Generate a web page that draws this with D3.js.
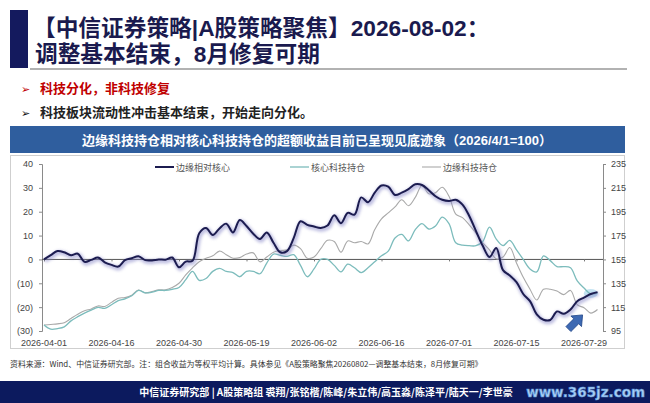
<!DOCTYPE html>
<html><head><meta charset="utf-8">
<script src="https://cdn.jsdelivr.net/npm/d3@7"></script>
<style>
body{margin:0;background:#fff;}
svg{display:block;font-family:"Liberation Sans","Noto Sans CJK SC",sans-serif;}
</style></head><body><svg id="c" width="650" height="403"></svg>
<script>
const dates = [
"2026-04-01","2026-04-02","2026-04-03","2026-04-07","2026-04-08","2026-04-09","2026-04-10","2026-04-13","2026-04-14","2026-04-15",
"2026-04-16","2026-04-17","2026-04-20","2026-04-21","2026-04-22","2026-04-23","2026-04-24","2026-04-27","2026-04-28","2026-04-29",
"2026-04-30","2026-05-06","2026-05-07","2026-05-08","2026-05-11","2026-05-12","2026-05-13","2026-05-14","2026-05-15","2026-05-18",
"2026-05-19","2026-05-20","2026-05-21","2026-05-22","2026-05-25","2026-05-26","2026-05-27","2026-05-28","2026-05-29","2026-06-01",
"2026-06-02","2026-06-03","2026-06-04","2026-06-05","2026-06-08","2026-06-09","2026-06-10","2026-06-11","2026-06-12","2026-06-15",
"2026-06-16","2026-06-17","2026-06-18","2026-06-22","2026-06-23","2026-06-24","2026-06-25","2026-06-26","2026-06-29","2026-06-30",
"2026-07-01","2026-07-02","2026-07-03","2026-07-06","2026-07-07","2026-07-08","2026-07-09","2026-07-10","2026-07-13","2026-07-14",
"2026-07-15","2026-07-16","2026-07-17","2026-07-20","2026-07-21","2026-07-22","2026-07-23","2026-07-24","2026-07-27","2026-07-28",
"2026-07-29","2026-07-30","2026-07-31"];
const xTickLabels = ["2026-04-01","2026-04-16","2026-04-30","2026-05-19","2026-06-02","2026-06-16","2026-07-01","2026-07-15","2026-07-29"];
// 边缘相对核心 (left axis)
const relSeries = [
0,1.8,3.5,3,1.8,2.4,-1,-0.2,0.8,-1.2,
-2.3,-3,-0.3,0.5,1.3,-0.3,-0.4,0,-0.1,0.8,
-3.3,-0.9,-0.6,11,13.2,10.2,13,15,11.3,16.5,
14,10.8,8.6,11.3,7,3,3.5,9,16,14.5,
13.8,13.2,14.2,18.5,15.2,19.5,18.8,26,24,28,
31,30.5,27,28,29.5,31.5,31.2,29,26.5,25,
24.5,25,23,18.2,11.9,5.7,1,4.8,-4.5,-6.7,
-9.5,-14.5,-17.5,-23,-25.3,-25.4,-21.8,-22.8,-21,-17.5,
-16,-14.5,-13.7];
// 核心科技持仓 (right axis)
const coreSeries = [
100,96.5,97,98.5,103.5,107,110,112.5,114.8,114,
117,120.5,122,124.5,129,127,127.5,129,129,130,
131.5,138,145,137.5,139,145,147.5,145,144,140.5,
145,145,143,152,159.5,158.5,157.5,159,150,140.5,
147,155,155,150,144.5,151,148,144,148,153,
158,162,173,176,170.5,180,185,180.5,183,190.5,
185,169,167,166.5,166.5,170,182,172,166.5,171,
163,155,147,144.5,158,154,149,149,148,137,
131,126,127];
// 边缘科技持仓 (right axis)
const edgeSeries = [
100,100.5,101,102,105.5,109,112,113.5,116,115.6,
119,122.5,123,125,129.4,127,128,129.5,129.5,131.5,
135,142,148,153,156,158,162,159,156,156.5,
159.5,160.5,153,157,161,162.5,163,167,164,156,
157,164,171,170,161,170.5,169,170,168,180,
189,194,199,205,200,207,217,210,211,215.5,
208,193,190,184,177,169,163,155.5,157,165,
152,140,130,121,130,130,128.5,125.5,129,117,
114.5,110,113];
const leftTicks = [-30,-20,-10,0,10,20,30,40];
const rightTicks = [95,115,135,155,175,195,215,235];
const seriesNames = ["边缘相对核心","核心科技持仓","边缘科技持仓"];

const svg = d3.select("#c");
const navy = "#141a5e";

// header
svg.append("rect").attr("x",10).attr("y",10).attr("width",18).attr("height",58).attr("fill",navy);
svg.append("text").attr("x",33).attr("y",36).attr("font-size",22.7).attr("font-weight","bold").attr("fill","#1a1a4e")
  .text("【中信证券策略|A股策略聚焦】2026-08-02：");
svg.append("text").attr("x",35).attr("y",62).attr("font-size",22.7).attr("font-weight","bold").attr("fill","#1a1a4e")
  .text("调整基本结束，8月修复可期");
svg.append("line").attr("x1",30).attr("x2",627).attr("y1",69).attr("y2",69).attr("stroke","#666").attr("stroke-width",1.2);

// bullets
svg.append("text").attr("x",21).attr("y",93).attr("font-size",11).attr("fill","#c00000").text("➢");
svg.append("text").attr("x",40).attr("y",93).attr("font-size",13).attr("font-weight","bold").attr("fill","#c00000").text("科技分化，非科技修复");
svg.append("text").attr("x",21).attr("y",117).attr("font-size",11).attr("fill","#111").text("➢");
svg.append("text").attr("x",40).attr("y",117).attr("font-size",13).attr("font-weight","bold").attr("fill","#222").text("科技板块流动性冲击基本结束，开始走向分化。");

// chart title bar
svg.append("rect").attr("x",10).attr("y",126).attr("width",615).attr("height",27).attr("fill","#2f5e9e");
svg.append("text").attr("x",317).attr("y",144.5).attr("text-anchor","middle").attr("font-size",13).attr("font-weight","bold").attr("fill","#fff")
  .text("边缘科技持仓相对核心科技持仓的超额收益目前已呈现见底迹象（2026/4/1=100）");
svg.append("rect").attr("x",10.5).attr("y",155.5).attr("width",614).attr("height",193).attr("fill","none").attr("stroke","#cfcfcf");

// scales
const x = d3.scalePoint().domain(dates).range([44, 597.5]);
const yL = d3.scaleLinear().domain([-30,40]).range([331,164]);
const yR = d3.scaleLinear().domain([95,235]).range([331,164]);

const fmtL = d => d < 0 ? "(" + Math.abs(d) + ")" : String(d);
const gL = svg.append("g").attr("transform","translate(42,0)")
  .call(d3.axisLeft(yL).tickValues(leftTicks).tickFormat(fmtL).tickSize(3).tickPadding(6));
const gR = svg.append("g").attr("transform","translate(603,0)")
  .call(d3.axisRight(yR).tickValues(rightTicks).tickSize(3).tickPadding(5));
[gL,gR].forEach(g=>{
  g.selectAll("path,line").attr("stroke","#8a8a8a");
  g.selectAll("text").attr("font-size",9).attr("fill","#444").attr("font-family","Liberation Sans");
});

// x axis on zero line
const gX = svg.append("g").attr("transform",`translate(0,${yL(0)})`)
  .call(d3.axisBottom(x).tickValues(xTickLabels).tickSize(2).tickFormat(""));
gX.select(".domain").attr("d",`M42,0H603`).attr("stroke","#555").attr("stroke-width",1);
gX.selectAll("line").attr("stroke","#777");
svg.append("g").selectAll("text").data(xTickLabels).join("text")
  .attr("x",d=>x(d)).attr("y",346).attr("text-anchor","middle").attr("font-size",9).attr("fill","#444")
  .text(d=>d);

// highlight ellipse
svg.append("ellipse").attr("cx",x(dates[81])).attr("cy",yR(126.5)).attr("rx",7).attr("ry",4.5)
  .attr("fill","#b8def0").attr("opacity",0.8);

// lines
const defs = svg.append("defs");
defs.append("filter").attr("id","blur").attr("x","-5%").attr("y","-10%").attr("width","110%").attr("height","120%")
  .append("feGaussianBlur").attr("stdDeviation",1.8);
const curve = d3.curveCatmullRom.alpha(0.5);
const lineR = d3.line().x((d,i)=>x(dates[i])).y(d=>yR(d)).curve(curve);
const lineL = d3.line().x((d,i)=>x(dates[i])).y(d=>yL(d)).curve(curve);
svg.append("path").attr("d",lineR(edgeSeries)).attr("fill","none").attr("stroke","#a9a9a9").attr("stroke-width",1.1);
svg.append("path").attr("d",lineR(coreSeries)).attr("fill","none").attr("stroke","#7cbcbc").attr("stroke-width",1.3);
svg.append("path").attr("d",lineL(relSeries)).attr("fill","none").attr("stroke","#8080c4").attr("stroke-width",4.5)
  .attr("opacity",0.5).attr("filter","url(#blur)").attr("transform","translate(1,1.5)");
svg.append("path").attr("d",lineL(relSeries)).attr("fill","none").attr("stroke","#1c1c50").attr("stroke-width",2);

// legend
const legX = [155, 290, 422];
const legColor = ["#1c1c50","#7cbcbc","#a9a9a9"];
const legW = [2,1.3,1.1];
seriesNames.forEach((n,i)=>{
  svg.append("line").attr("x1",legX[i]).attr("x2",legX[i]+19).attr("y1",167).attr("y2",167)
    .attr("stroke",legColor[i]).attr("stroke-width",legW[i]);
  svg.append("text").attr("x",legX[i]+21).attr("y",170.5).attr("font-size",9).attr("fill","#555")
    .attr("font-family","Noto Sans CJK SC").text(n);
});

// arrow
const ag = svg.append("g").attr("transform",`translate(${x(dates[78])+5},322) rotate(-45)`);
ag.append("path").attr("d","M-10,-3.5 L1,-3.5 L1,-7.5 L10,0 L1,7.5 L1,3.5 L-10,3.5 Z")
  .attr("fill","#3d69b3").attr("stroke","#24488a").attr("stroke-width",0.8);

// source note
svg.append("text").attr("x",10).attr("y",367).attr("font-size",7.9).attr("fill","#333").attr("font-family","Noto Sans CJK SC")
  .text("资料来源：Wind、中信证券研究部。注：组合收益为等权平均计算。具体参见《A股策略聚焦20260802—调整基本结束，8月修复可期》");

// footer
svg.append("rect").attr("x",0).attr("y",381).attr("width",650).attr("height",22).attr("fill","#0c1a5e");
svg.append("text").attr("x",326).attr("y",396).attr("text-anchor","middle").attr("font-size",10).attr("font-weight","bold").attr("fill","#fff")
  .attr("font-family","Noto Sans CJK SC")
  .text("中信证券研究部 | A股策略组 裘翔/张铭楷/陈峰/朱立伟/高玉淼/陈泽平/陆天一/李世豪");
svg.append("text").attr("x",645).attr("y",397).attr("text-anchor","end").attr("font-size",13.5).attr("font-weight","bold")
  .attr("font-family","DejaVu Sans").attr("fill","#a9d2f5").attr("stroke","#5d90d4").attr("stroke-width",0.6)
  .text("www.365jz.com");
</script></body></html>
